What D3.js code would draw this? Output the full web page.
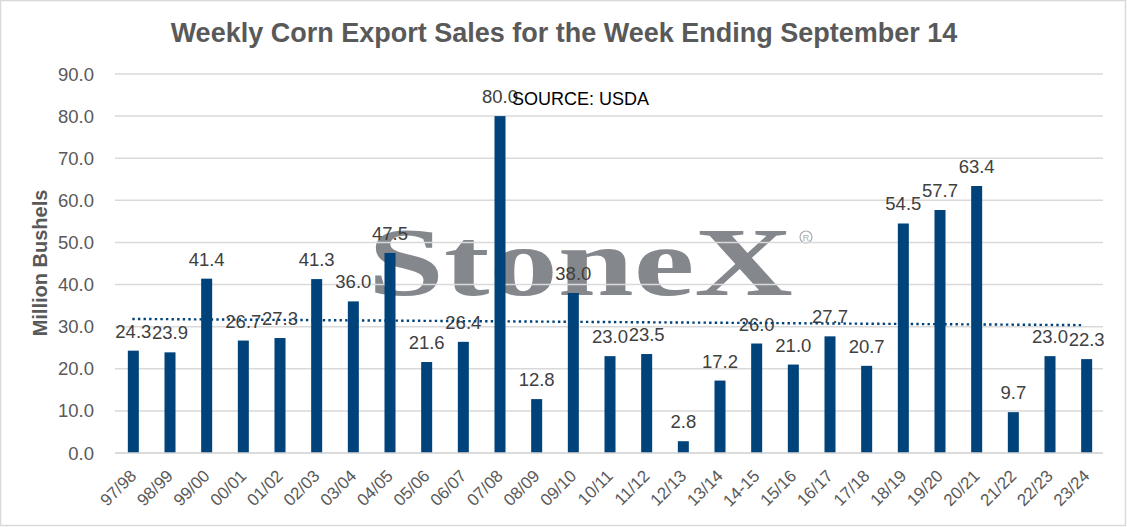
<!DOCTYPE html>
<head>
  <meta charset="UTF-8" />
  <title>Weekly Corn Export Sales</title>
  <style>
    body { margin: 0; background: #fff; }
    svg { display: block; font-family: Arial, "Liberation Sans", sans-serif; }
  </style>
</head>
<body>
  <svg width="1127" height="527"></svg>
</body>

<script src="https://cdn.jsdelivr.net/npm/d3@7"></script>
<script>
  // data
  const seasons = ["97/98", "98/99", "99/00", "00/01", "01/02", "02/03", "03/04", "04/05",
    "05/06", "06/07", "07/08", "08/09", "09/10", "10/11", "11/12", "12/13", "13/14", "14-15",
    "15/16", "16/17", "17/18", "18/19", "19/20", "20/21", "21/22", "22/23", "23/24"];
  const sales = [24.3, 23.9, 41.4, 26.7, 27.3, 41.3, 36.0, 47.5, 21.6, 26.4, 80.0, 12.8, 38.0,
    23.0, 23.5, 2.8, 17.2, 26.0, 21.0, 27.7, 20.7, 54.5, 57.7, 63.4, 9.7, 23.0, 22.3];
  const yTicks = [0, 10, 20, 30, 40, 50, 60, 70, 80, 90];

  const svg = d3.select("svg");

  // chart border
  svg.append("rect")
    .attr("x", 0.5).attr("y", 0.5)
    .attr("width", 1125).attr("height", 525)
    .attr("fill", "#fff")
    .attr("stroke", "#d9d9d9")
    .attr("stroke-width", 1.5);

  const x = d3.scaleBand().domain(seasons).range([115, 1105]).paddingInner(0.7).paddingOuter(0.35);
  const y = d3.scaleLinear().domain([0, 90]).range([453, 74]);

  // watermark sits under the gridlines
  svg.append("text")
    .attr("x", 368).attr("y", 295)
    .attr("textLength", 425)
    .attr("lengthAdjust", "spacingAndGlyphs")
    .attr("font-family", "Liberation Serif, serif")
    .attr("font-weight", "bold")
    .attr("font-size", 97)
    .attr("fill", "#84878c")
    .text("StoneX");
  svg.append("circle")
    .attr("cx", 806).attr("cy", 237).attr("r", 6)
    .attr("fill", "none").attr("stroke", "#a9abaf").attr("stroke-width", 1.2);
  svg.append("text")
    .attr("x", 806).attr("y", 240.5)
    .attr("text-anchor", "middle")
    .attr("font-size", 9)
    .attr("fill", "#a9abaf")
    .text("R");

  // gridlines + y labels
  svg.append("g")
    .selectAll("line")
    .data(yTicks)
    .join("line")
    .attr("x1", 115).attr("x2", 1103)
    .attr("y1", d => y(d)).attr("y2", d => y(d))
    .attr("stroke", "#d9d9d9")
    .attr("stroke-width", 1.5);

  svg.append("g")
    .selectAll("text")
    .data(yTicks)
    .join("text")
    .attr("x", 94)
    .attr("y", d => y(d) + 6.5)
    .attr("text-anchor", "end")
    .attr("font-size", 18.5)
    .attr("fill", "#595959")
    .text(d => d.toFixed(1));

  // bars
  svg.append("g")
    .selectAll("rect")
    .data(sales)
    .join("rect")
    .attr("x", (d, i) => x(seasons[i]))
    .attr("y", d => y(d))
    .attr("width", x.bandwidth())
    .attr("height", d => y(0) - y(d))
    .attr("fill", "#00427a");

  // value labels
  svg.append("g")
    .selectAll("text")
    .data(sales)
    .join("text")
    .attr("x", (d, i) => x(seasons[i]) + x.bandwidth() / 2)
    .attr("y", d => y(d) - 13)
    .attr("text-anchor", "middle")
    .attr("font-size", 18.5)
    .attr("fill", "#404040")
    .text(d => d.toFixed(1));

  // linear trend line (dotted), least squares over the bars
  const idx = sales.map((d, i) => i);
  const mx = d3.mean(idx), my = d3.mean(sales);
  const slope = d3.sum(idx, i => (i - mx) * (sales[i] - my)) / d3.sum(idx, i => (i - mx) ** 2);
  const trend = i => my + slope * (i - mx);
  const cx = i => x(seasons[i]) + x.bandwidth() / 2;
  svg.append("line")
    .attr("x1", cx(0) - 1).attr("x2", cx(seasons.length - 1) - 3)
    .attr("y1", y(trend(0))).attr("y2", y(trend(seasons.length - 1)))
    .attr("stroke", "#00427a")
    .attr("stroke-width", 2.4)
    .attr("stroke-dasharray", "2.4 3.2");

  // x axis line + labels
  svg.append("line")
    .attr("x1", 115).attr("x2", 1103)
    .attr("y1", y(0)).attr("y2", y(0))
    .attr("stroke", "#d9d9d9")
    .attr("stroke-width", 1.5);

  svg.append("g")
    .selectAll("text")
    .data(seasons)
    .join("text")
    .attr("transform", d => `translate(${x(d) + x.bandwidth() / 2 + 4},${477}) rotate(-45)`)
    .attr("text-anchor", "end")
    .attr("font-size", 17)
    .attr("fill", "#595959")
    .text(d => d);

  // titles
  svg.append("text")
    .attr("x", 564).attr("y", 42)
    .attr("text-anchor", "middle")
    .attr("font-size", 27)
    .attr("font-weight", "bold")
    .attr("fill", "#595959")
    .text("Weekly Corn Export Sales for the Week Ending September 14");

  svg.append("text")
    .attr("transform", "translate(47,263) rotate(-90)")
    .attr("text-anchor", "middle")
    .attr("font-size", 20)
    .attr("font-weight", "bold")
    .attr("fill", "#595959")
    .text("Million Bushels");

  svg.append("text")
    .attr("x", 512).attr("y", 105)
    .attr("font-size", 18)
    .attr("fill", "#000")
    .text("SOURCE: USDA");
</script>
